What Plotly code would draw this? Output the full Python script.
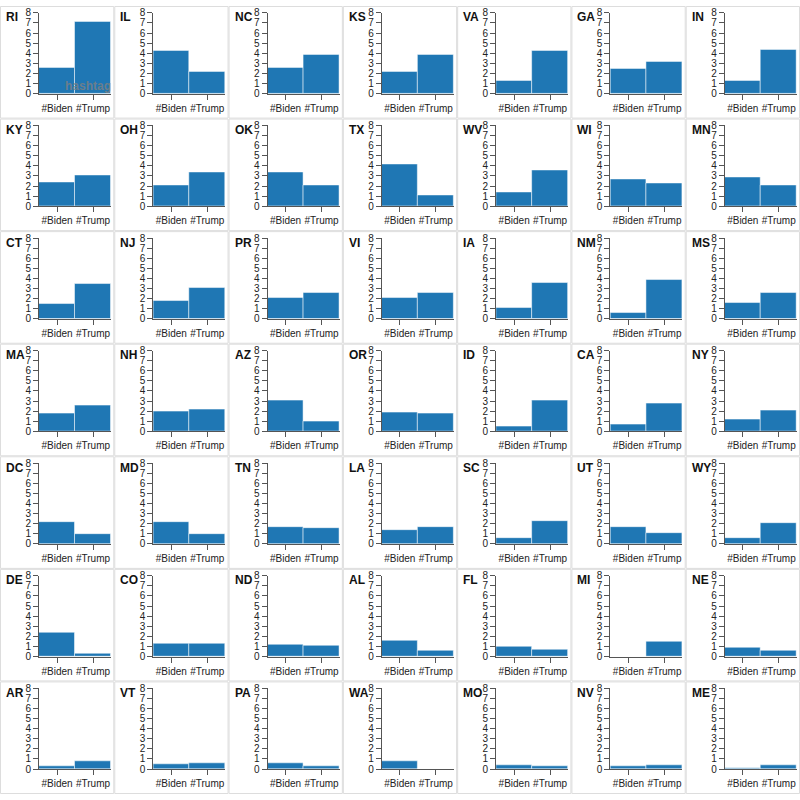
import plotly.graph_objects as go

states = ["RI", "IL", "NC", "KS", "VA", "GA", "IN",
          "KY", "OH", "OK", "TX", "WV", "WI", "MN",
          "CT", "NJ", "PR", "VI", "IA", "NM", "MS",
          "MA", "NH", "AZ", "OR", "ID", "CA", "NY",
          "DC", "MD", "TN", "LA", "SC", "UT", "WY",
          "DE", "CO", "ND", "AL", "FL", "MI", "NE",
          "AR", "VT", "PA", "WA", "MO", "NV", "ME"]
hashtags = ["#Biden", "#Trump"]
biden = [2.6, 4.2, 2.6, 2.2, 1.3, 2.45, 1.25,
         2.38, 2.1, 3.3, 4.15, 1.4, 2.7, 2.85,
         1.45, 1.75, 2.05, 2.05, 1.05, 0.55, 1.6,
         1.75, 1.95, 3.05, 1.9, 0.45, 0.7, 1.2,
         2.2, 2.2, 1.65, 1.35, 0.6, 1.65, 0.55,
         2.4, 1.27, 1.2, 1.55, 1.0, 0.0, 0.88,
         0.3, 0.5, 0.6, 0.8, 0.4, 0.25, 0.1]
trump = [7.1, 2.15, 3.8, 3.87, 4.26, 3.1, 4.3,
         3.0, 3.3, 2.1, 1.1, 3.55, 2.3, 2.1,
         3.4, 3.0, 2.6, 2.6, 3.5, 3.8, 2.6,
         2.55, 2.2, 1.0, 1.8, 3.05, 2.75, 2.05,
         0.95, 0.95, 1.6, 1.65, 2.3, 1.1, 2.1,
         0.23, 1.27, 1.1, 0.55, 0.7, 1.43, 0.55,
         0.8, 0.6, 0.3, 0.0, 0.3, 0.35, 0.33]
y_ticks = [0, 1, 2, 3, 4, 5, 6, 7, 8]

FONT = "Arial, Liberation Sans, sans-serif"
S = 800.0
W = S / 7
fig = go.Figure()
layout = {}
shapes = []
annotations = []
for i, st in enumerate(states):
    r, c = divmod(i, 7)
    n = i + 1
    xa = "x" if n == 1 else f"x{n}"
    ya = "y" if n == 1 else f"y{n}"
    fig.add_trace(go.Bar(
        x=hashtags, y=[biden[i], trump[i]], xaxis=xa, yaxis=ya,
        marker=dict(color="#1f77b4", line=dict(color="rgba(255,255,255,0.5)", width=1)),
        showlegend=False, hoverinfo="x+y"))
    x0 = (c * W + 39) / S
    x1 = (c * W + 111) / S
    yb = 1 - (r * W + 89) / S
    yt = 1 - (r * W + 7) / S
    layout["xaxis" if n == 1 else f"xaxis{n}"] = dict(
        domain=[x0, x1], anchor=ya, type="category", range=[-0.5, 1.5],
        showline=True, linecolor="#555", linewidth=1, ticks="outside", ticklen=5,
        tickcolor="#555", showgrid=False, zeroline=False,
        tickfont=dict(size=10, color="#222", family=FONT), fixedrange=True)
    layout["yaxis" if n == 1 else f"yaxis{n}"] = dict(
        domain=[yb, yt], anchor=xa, range=[0, 8], tickvals=y_ticks,
        showline=True, linecolor="#555", linewidth=1, ticks="outside", ticklen=5,
        tickcolor="#555", showgrid=False, zeroline=False,
        tickfont=dict(size=10, color="#222", family=FONT), fixedrange=True)
    shapes.append(dict(type="rect", xref="paper", yref="paper",
                       x0=(c * W + 0.5) / S, x1=((c + 1) * W - 0.5) / S,
                       y0=1 - ((r + 1) * W - 0.5) / S, y1=1 - (r * W + 0.5) / S,
                       line=dict(color="#dddddd", width=1), layer="below"))
    annotations.append(dict(text=st, xref="paper", yref="paper",
                            x=(c * W + 4) / S, y=1 - (r * W + 2.5) / S,
                            xanchor="left", yanchor="top", showarrow=False,
                            font=dict(size=12, color="#111", family=FONT, weight="bold")))

annotations.append(dict(text="hashtag", xref="paper", yref="paper",
                        x=88 / S, y=1 - 81 / S, xanchor="center", yanchor="middle",
                        showarrow=False,
                        font=dict(size=12, color="rgba(128,128,128,0.8)", family=FONT, weight="bold")))

fig.update_layout(**layout)
fig.update_layout(width=800, height=800, margin=dict(l=0, r=0, t=0, b=0),
                  paper_bgcolor="white", plot_bgcolor="white", bargap=0,
                  shapes=shapes, annotations=annotations,
                  font=dict(family=FONT))
fig.write_html("out.html", config={"displayModeBar": False},
               post_script="document.body.style.margin='0';document.body.style.overflow='hidden';")
